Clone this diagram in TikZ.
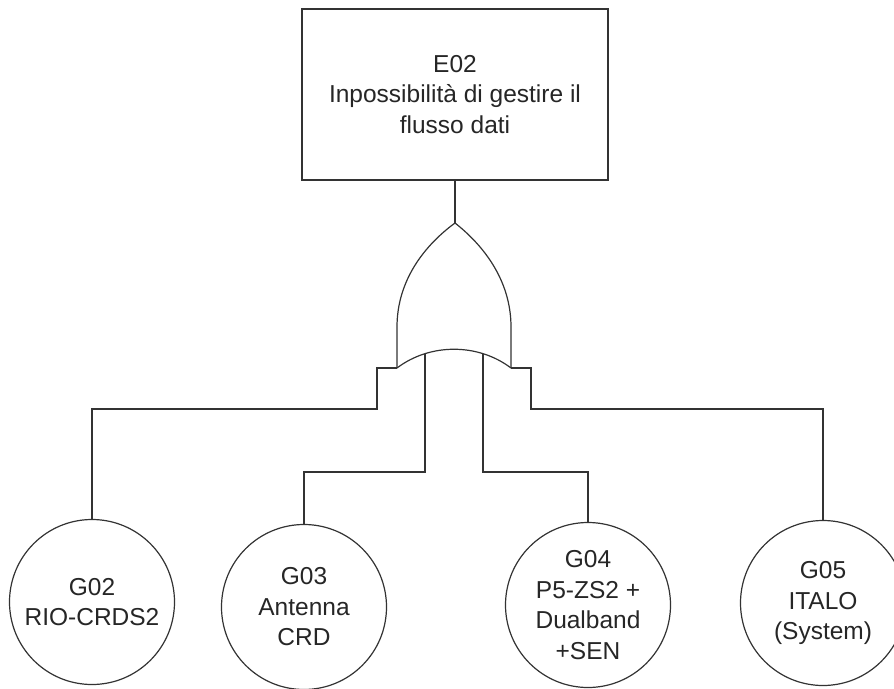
\documentclass[tikz,border=0pt]{standalone}
\usepackage{fontspec}
\setmainfont{Liberation Sans}
\begin{document}
\begin{tikzpicture}[x=1pt,y=-1pt,
  every node/.style={font=\fontsize{24.5}{30.5}\selectfont, text=black!85},
  wire/.style={draw=black!80, line width=1.2pt},
  eventbox/.style={draw=black!80, line width=1.2pt, rectangle, minimum width=306pt, minimum height=171pt, align=center, inner sep=0pt},
  basic/.style={draw=black!80, line width=1.2pt, circle, minimum size=165pt, align=center, inner sep=0pt}]
\useasboundingbox (0,0) rectangle (894,688);
\clip (0,0) rectangle (894,688);

% top event
\node[eventbox] (e02) at (455,94.5) {E02\\Inpossibilità di gestire il\\flusso dati};

% OR gate
\coordinate (apex) at (455,223);
\coordinate (gL) at (397,368);
\coordinate (gR) at (511,368);
\coordinate (inA) at (425,354);
\coordinate (inB) at (483,354);
\draw[wire] (gL) -- (397,327) .. controls (397,280) and (425,245) .. (apex)
  .. controls (483,245) and (511,280) .. (511,327) -- (gR);
\draw[wire] (gL) .. controls (430,343) and (478,343) .. (gR);

% basic events
\node[basic] (g02) at (92,602) {G02\\RIO-CRDS2};
\node[basic] (g03) at (304,607) {G03\\Antenna\\CRD};
\node[basic] (g04) at (588,605) {G04\\P5-ZS2 +\\Dualband\\+SEN};
\node[basic] (g05) at (823,603) {G05\\ITALO\\(System)};

% connectors
\draw[wire] (e02.south) -- (apex);
\draw[wire] (gL) -- (377,368) -- (377,409) -| (g02.north);
\draw[wire] (inA) -- (425,472) -| (g03.north);
\draw[wire] (inB) -- (483,472) -| (g04.north);
\draw[wire] (gR) -- (531,368) -- (531,409) -| (g05.north);
\end{tikzpicture}
\end{document}
